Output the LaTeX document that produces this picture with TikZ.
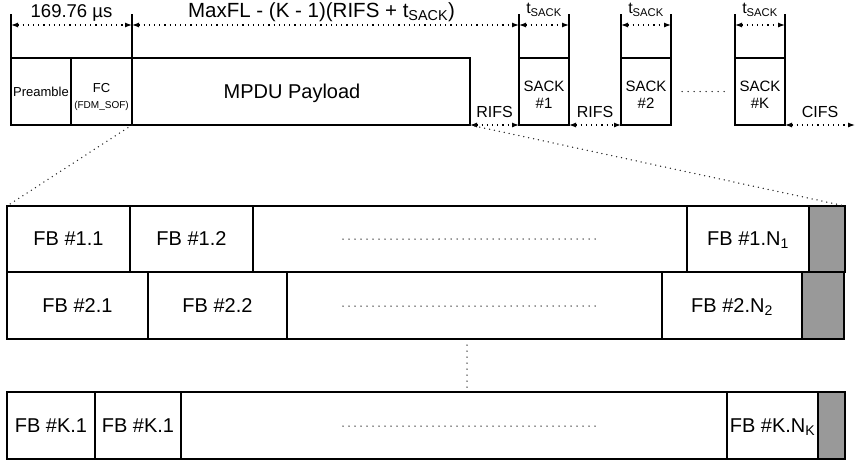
\documentclass[tikz,border=0pt]{standalone}
\usepackage{fontspec}
\setmainfont{Liberation Sans}
\usetikzlibrary{arrows.meta}

\begin{document}
\begin{tikzpicture}[x=1pt, y=-1pt,
  bloc/.style={draw, line width=1.2pt, anchor=north west, inner sep=0pt, outer sep=0pt, minimum height=67pt},
  fb/.style={bloc, minimum height=66pt, font=\fontsize{20}{24}\selectfont, text depth=0pt},
  bourrage/.style={bloc, minimum height=66pt, fill=black!40},
  cote/.style={line width=1.2pt, loosely dotted, {Latex[length=7pt,width=5pt]}-{Latex[length=7pt,width=5pt]}},
  points/.style={line width=1.5pt, dash pattern=on 0pt off 6pt, line cap=round, black!85},
  repere/.style={line width=1.2pt},
  grand/.style={font=\fontsize{18.5}{22}\selectfont, inner sep=1pt},
  moyen/.style={font=\fontsize{16}{19}\selectfont, inner sep=1pt},
]

\useasboundingbox (0,0) rectangle (856,464);

% Trame
\node[bloc, minimum width=60pt, font=\fontsize{13}{15}\selectfont, text depth=0pt] (pre) at (11,58) {Preamble};
\node[bloc, minimum width=61pt, font=\fontsize{13}{16}\selectfont, align=center] (fc) at (71,58) {\rule{0pt}{20pt}FC\\{\fontsize{10}{12}\selectfont (FDM\_SOF)}};
\node[bloc, minimum width=338pt, font=\fontsize{20}{24}\selectfont, text depth=0pt] (mpdu) at (132,58) {MPDU Payload\hspace*{18pt}};

% SACK
\node[bloc, minimum width=50pt, font=\fontsize{15}{17}\selectfont, align=center] (sack1) at (519,58) {\rule{0pt}{16pt}SACK\\\#1};
\node[bloc, minimum width=50pt, font=\fontsize{15}{17}\selectfont, align=center] (sack2) at (621,58) {\rule{0pt}{16pt}SACK\\\#2};
\node[bloc, minimum width=50pt, font=\fontsize{15}{17}\selectfont, align=center] (sackK) at (735,58) {\rule{0pt}{16pt}SACK\\\#K};
\draw[points] ([xshift=11pt]sack2.east) -- ([xshift=-7pt]sackK.west);

% Reperes
\foreach \n in {pre, mpdu, sack1, sack2, sackK}
  \draw[repere] (\n.north west) -- ++(0,-44);
\foreach \n in {sack1, sack2, sackK}
  \draw[repere] (\n.north east) -- ++(0,-44);

% Durees
\draw[cote] ([yshift=33pt]pre.north west) -- ([yshift=33pt]mpdu.north west)
  node[midway, above=2.5pt, grand] (d1) {169.76 µs};
\draw[cote] ([yshift=33pt]mpdu.north west) -- ([yshift=33pt]sack1.north west)
  node[midway, above=2pt, grand, font=\fontsize{20.5}{24}\selectfont, xshift=-4pt] (d2) {MaxFL - (K - 1)(RIFS + t\textsubscript{SACK})};
\foreach \n in {sack1, sack2, sackK}
  \draw[cote] ([yshift=33pt]\n.north west) -- ([yshift=33pt]\n.north east)
    node[midway, above=7pt, moyen] (t\n) {t\textsubscript{SACK}};

% Intervalles
\coordinate (fin) at (855,125);
\draw[cote] (mpdu.south east) -- (sack1.south west) node[midway, above=6pt, moyen] (rifs1) {RIFS};
\draw[cote] (sack1.south east) -- (sack2.south west) node[midway, above=6pt, moyen] (rifs2) {RIFS};
\draw[cote] (sackK.south east) -- (fin) node[midway, above=6pt, moyen] (cifs) {CIFS};

% Rangee 1
\node[bloc, minimum width=838pt, minimum height=66pt] (r1) at (7,206) {};
\node[fb, minimum width=123pt] (fb11) at (7,206) {FB \#1.1};
\node[fb, minimum width=123pt] (fb12) at (130,206) {FB \#1.2};
\node[fb, minimum width=122pt] (fb1n) at (687,206) {FB \#1.N\textsubscript{1}};
\node[bourrage, minimum width=36pt] (g1) at (809,206) {};
\draw[points] (343,239) -- (597,239);

% Rangee 2
\node[bloc, minimum width=837pt, minimum height=67pt] (r2) at (7,272) {};
\node[fb, minimum width=141pt, minimum height=67pt] (fb21) at (7,272) {FB \#2.1};
\node[fb, minimum width=139pt, minimum height=67pt] (fb22) at (148,272) {FB \#2.2};
\node[fb, minimum width=140pt, minimum height=67pt] (fb2n) at (662,272) {FB \#2.N\textsubscript{2}};
\node[bourrage, minimum width=42pt, minimum height=67pt] (g2) at (802,272) {};
\draw[points] (343,306) -- (597,306);

\draw[points] (467,345) -- (467,390);

% Rangee K
\node[bloc, minimum width=838pt, minimum height=67pt] (rK) at (7,392) {};
\node[fb, minimum width=88pt, minimum height=67pt] (fbk1) at (7,392) {FB \#K.1};
\node[fb, minimum width=86pt, minimum height=67pt] (fbk2) at (95,392) {FB \#K.1};
\node[fb, minimum width=91pt, minimum height=67pt] (fbkn) at (727,392) {FB \#K.N\textsubscript{K}};
\node[bourrage, minimum width=27pt, minimum height=67pt] (gK) at (818,392) {};
\draw[points] (343,426) -- (597,426);

% Zoom
\draw[points, dash pattern=on 0pt off 5pt] (fc.south east) -- (r1.north west);
\draw[points, dash pattern=on 0pt off 5pt] (mpdu.south east) -- (r1.north east);

\end{tikzpicture}
\end{document}
